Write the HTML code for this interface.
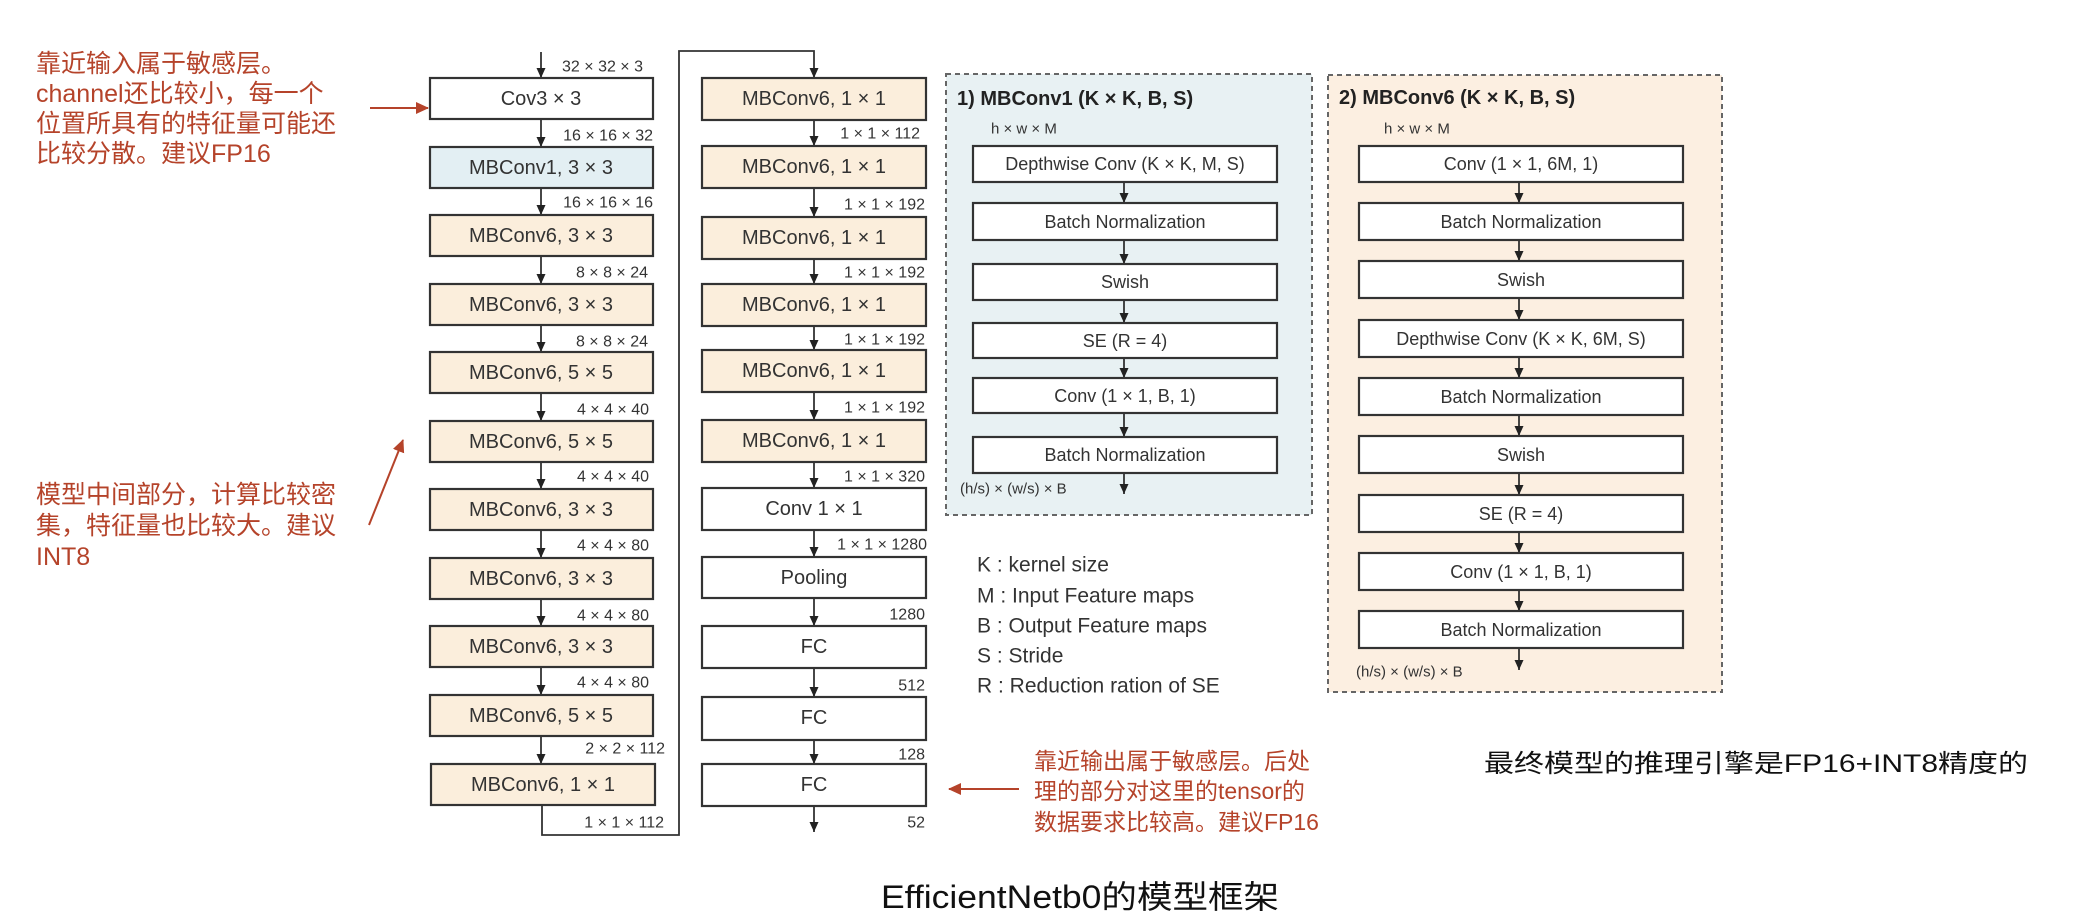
<!DOCTYPE html>
<html><head><meta charset="utf-8"><style>
html,body{margin:0;padding:0;background:#fff;}
svg{display:block;}
.b{font-family:"Liberation Sans Narrow","Liberation Sans",sans-serif;font-size:20px;fill:#333;text-anchor:middle;dominant-baseline:central;}
.d{font-family:"Liberation Sans Narrow","Liberation Sans",sans-serif;font-size:16px;fill:#333;text-anchor:end;dominant-baseline:central;}
.p{font-family:"Liberation Sans",sans-serif;font-size:18px;fill:#333;text-anchor:middle;dominant-baseline:central;}
.l{font-family:"Liberation Sans",sans-serif;font-size:21px;fill:#333;dominant-baseline:central;}
.r{font-family:"Liberation Sans","Noto Sans CJK SC",sans-serif;font-size:25px;fill:#b5432a;dominant-baseline:central;}
.k{font-family:"Liberation Sans","Noto Sans CJK SC",sans-serif;fill:#111;dominant-baseline:central;}
</style></head><body>
<svg width="2079" height="921" viewBox="0 0 2079 921" xmlns="http://www.w3.org/2000/svg">
<defs>
<marker id="a" markerWidth="12" markerHeight="10" refX="10" refY="5" orient="auto" markerUnits="userSpaceOnUse"><path d="M0,0.5 L10,5 L0,9.5 Z" fill="#222"/></marker>
<marker id="ar" markerWidth="14" markerHeight="14" refX="12" refY="6" orient="auto" markerUnits="userSpaceOnUse"><path d="M0,0 L13,6 L0,12 Z" fill="#b5432a"/></marker>
</defs>
<g stroke="#333" stroke-width="1.8" fill="none">
<line x1="541" y1="52" x2="541" y2="78" marker-end="url(#a)"/>
<line x1="541" y1="119" x2="541" y2="147" marker-end="url(#a)"/>
<line x1="541" y1="188" x2="541" y2="215" marker-end="url(#a)"/>
<line x1="541" y1="256" x2="541" y2="284" marker-end="url(#a)"/>
<line x1="541" y1="325" x2="541" y2="352" marker-end="url(#a)"/>
<line x1="541" y1="393" x2="541" y2="421" marker-end="url(#a)"/>
<line x1="541" y1="462" x2="541" y2="489" marker-end="url(#a)"/>
<line x1="541" y1="530" x2="541" y2="558" marker-end="url(#a)"/>
<line x1="541" y1="599" x2="541" y2="626" marker-end="url(#a)"/>
<line x1="541" y1="667" x2="541" y2="695" marker-end="url(#a)"/>
<line x1="541" y1="736" x2="541" y2="764" marker-end="url(#a)"/>
<polyline points="542,805 542,835 679,835 679,51 814,51 814,78" marker-end="url(#a)"/>
<line x1="814" y1="120" x2="814" y2="146" marker-end="url(#a)"/>
<line x1="814" y1="188" x2="814" y2="217" marker-end="url(#a)"/>
<line x1="814" y1="259" x2="814" y2="284" marker-end="url(#a)"/>
<line x1="814" y1="326" x2="814" y2="350" marker-end="url(#a)"/>
<line x1="814" y1="392" x2="814" y2="420" marker-end="url(#a)"/>
<line x1="814" y1="462" x2="814" y2="488" marker-end="url(#a)"/>
<line x1="814" y1="530" x2="814" y2="557" marker-end="url(#a)"/>
<line x1="814" y1="598" x2="814" y2="626" marker-end="url(#a)"/>
<line x1="814" y1="668" x2="814" y2="697" marker-end="url(#a)"/>
<line x1="814" y1="740" x2="814" y2="764" marker-end="url(#a)"/>
<line x1="814" y1="806" x2="814" y2="832" marker-end="url(#a)"/>
</g>
<rect x="946" y="74" width="366" height="441" fill="#e8f1f3" stroke="#666" stroke-width="2" stroke-dasharray="5,4"/>
<rect x="1328" y="75" width="394" height="617" fill="#fcefe1" stroke="#666" stroke-width="2" stroke-dasharray="5,4"/>
<g stroke="#333" stroke-width="1.8" fill="none">
<line x1="1124" y1="182" x2="1124" y2="203" marker-end="url(#a)"/>
<line x1="1124" y1="240" x2="1124" y2="264" marker-end="url(#a)"/>
<line x1="1124" y1="300" x2="1124" y2="323" marker-end="url(#a)"/>
<line x1="1124" y1="358" x2="1124" y2="378" marker-end="url(#a)"/>
<line x1="1124" y1="413" x2="1124" y2="437" marker-end="url(#a)"/>
<line x1="1124" y1="473" x2="1124" y2="494" marker-end="url(#a)"/>
<line x1="1519" y1="182" x2="1519" y2="203" marker-end="url(#a)"/>
<line x1="1519" y1="240" x2="1519" y2="261" marker-end="url(#a)"/>
<line x1="1519" y1="298" x2="1519" y2="320" marker-end="url(#a)"/>
<line x1="1519" y1="357" x2="1519" y2="378" marker-end="url(#a)"/>
<line x1="1519" y1="415" x2="1519" y2="436" marker-end="url(#a)"/>
<line x1="1519" y1="473" x2="1519" y2="495" marker-end="url(#a)"/>
<line x1="1519" y1="532" x2="1519" y2="553" marker-end="url(#a)"/>
<line x1="1519" y1="590" x2="1519" y2="611" marker-end="url(#a)"/>
<line x1="1519" y1="648" x2="1519" y2="670" marker-end="url(#a)"/>
</g>
<g stroke="#333" stroke-width="2.2">
<rect x="430" y="78" width="223" height="41" fill="#fff"/>
<rect x="430" y="147" width="223" height="41" fill="#e3eff3"/>
<rect x="430" y="215" width="223" height="41" fill="#fbeedc"/>
<rect x="430" y="284" width="223" height="41" fill="#fbeedc"/>
<rect x="430" y="352" width="223" height="41" fill="#fbeedc"/>
<rect x="430" y="421" width="223" height="41" fill="#fbeedc"/>
<rect x="430" y="489" width="223" height="41" fill="#fbeedc"/>
<rect x="430" y="558" width="223" height="41" fill="#fbeedc"/>
<rect x="430" y="626" width="223" height="41" fill="#fbeedc"/>
<rect x="430" y="695" width="223" height="41" fill="#fbeedc"/>
<rect x="431" y="764" width="224" height="41" fill="#fbeedc"/>
<rect x="702" y="78" width="224" height="42" fill="#fbeedc"/>
<rect x="702" y="146" width="224" height="42" fill="#fbeedc"/>
<rect x="702" y="217" width="224" height="42" fill="#fbeedc"/>
<rect x="702" y="284" width="224" height="42" fill="#fbeedc"/>
<rect x="702" y="350" width="224" height="42" fill="#fbeedc"/>
<rect x="702" y="420" width="224" height="42" fill="#fbeedc"/>
<rect x="702" y="488" width="224" height="42" fill="#fff"/>
<rect x="702" y="557" width="224" height="41" fill="#fff"/>
<rect x="702" y="626" width="224" height="42" fill="#fff"/>
<rect x="702" y="697" width="224" height="43" fill="#fff"/>
<rect x="702" y="764" width="224" height="42" fill="#fff"/>
<rect x="973" y="146" width="304" height="36" fill="#fff"/>
<rect x="973" y="203" width="304" height="37" fill="#fff"/>
<rect x="973" y="264" width="304" height="36" fill="#fff"/>
<rect x="973" y="323" width="304" height="35" fill="#fff"/>
<rect x="973" y="378" width="304" height="35" fill="#fff"/>
<rect x="973" y="437" width="304" height="36" fill="#fff"/>
<rect x="1359" y="146" width="324" height="36" fill="#fff"/>
<rect x="1359" y="203" width="324" height="37" fill="#fff"/>
<rect x="1359" y="261" width="324" height="37" fill="#fff"/>
<rect x="1359" y="320" width="324" height="37" fill="#fff"/>
<rect x="1359" y="378" width="324" height="37" fill="#fff"/>
<rect x="1359" y="436" width="324" height="37" fill="#fff"/>
<rect x="1359" y="495" width="324" height="37" fill="#fff"/>
<rect x="1359" y="553" width="324" height="37" fill="#fff"/>
<rect x="1359" y="611" width="324" height="37" fill="#fff"/>
</g>
<text class="b" x="541" y="99">Cov3 × 3</text>
<text class="b" x="541" y="168">MBConv1, 3 × 3</text>
<text class="b" x="541" y="236">MBConv6, 3 × 3</text>
<text class="b" x="541" y="305">MBConv6, 3 × 3</text>
<text class="b" x="541" y="373">MBConv6, 5 × 5</text>
<text class="b" x="541" y="442">MBConv6, 5 × 5</text>
<text class="b" x="541" y="510">MBConv6, 3 × 3</text>
<text class="b" x="541" y="579">MBConv6, 3 × 3</text>
<text class="b" x="541" y="647">MBConv6, 3 × 3</text>
<text class="b" x="541" y="716">MBConv6, 5 × 5</text>
<text class="b" x="543" y="785">MBConv6, 1 × 1</text>
<text class="d" x="643" y="67">32 × 32 × 3</text>
<text class="d" x="653" y="136">16 × 16 × 32</text>
<text class="d" x="653" y="203">16 × 16 × 16</text>
<text class="d" x="648" y="273">8 × 8 × 24</text>
<text class="d" x="648" y="342">8 × 8 × 24</text>
<text class="d" x="649" y="410">4 × 4 × 40</text>
<text class="d" x="649" y="477">4 × 4 × 40</text>
<text class="d" x="649" y="546">4 × 4 × 80</text>
<text class="d" x="649" y="616">4 × 4 × 80</text>
<text class="d" x="649" y="683">4 × 4 × 80</text>
<text class="d" x="665" y="749">2 × 2 × 112</text>
<text class="d" x="664" y="823">1 × 1 × 112</text>
<text class="b" x="814" y="99">MBConv6, 1 × 1</text>
<text class="b" x="814" y="167">MBConv6, 1 × 1</text>
<text class="b" x="814" y="238">MBConv6, 1 × 1</text>
<text class="b" x="814" y="305">MBConv6, 1 × 1</text>
<text class="b" x="814" y="371">MBConv6, 1 × 1</text>
<text class="b" x="814" y="441">MBConv6, 1 × 1</text>
<text class="b" x="814" y="509">Conv 1 × 1</text>
<text class="b" x="814" y="578">Pooling</text>
<text class="b" x="814" y="647">FC</text>
<text class="b" x="814" y="718">FC</text>
<text class="b" x="814" y="785">FC</text>
<text class="d" x="920" y="134">1 × 1 × 112</text>
<text class="d" x="925" y="205">1 × 1 × 192</text>
<text class="d" x="925" y="273">1 × 1 × 192</text>
<text class="d" x="925" y="340">1 × 1 × 192</text>
<text class="d" x="925" y="408">1 × 1 × 192</text>
<text class="d" x="925" y="477">1 × 1 × 320</text>
<text class="d" x="927" y="545">1 × 1 × 1280</text>
<text class="d" x="925" y="615">1280</text>
<text class="d" x="925" y="686">512</text>
<text class="d" x="925" y="755">128</text>
<text class="d" x="925" y="823">52</text>
<text x="957" y="99" style="font-family:'Liberation Sans',sans-serif;font-weight:bold;font-size:20px;fill:#222;dominant-baseline:central">1) MBConv1 (K × K, B, S)</text>
<text x="991" y="129" style="font-family:'Liberation Sans',sans-serif;font-size:15px;fill:#333;dominant-baseline:central">h × w × M</text>
<text class="p" x="1125" y="164">Depthwise Conv (K × K, M, S)</text>
<text class="p" x="1125" y="222">Batch Normalization</text>
<text class="p" x="1125" y="282">Swish</text>
<text class="p" x="1125" y="341">SE (R = 4)</text>
<text class="p" x="1125" y="396">Conv (1 × 1, B, 1)</text>
<text class="p" x="1125" y="455">Batch Normalization</text>
<text x="960" y="489" style="font-family:'Liberation Sans',sans-serif;font-size:15px;fill:#333;dominant-baseline:central">(h/s) × (w/s) × B</text>
<text x="1339" y="98" style="font-family:'Liberation Sans',sans-serif;font-weight:bold;font-size:20px;fill:#222;dominant-baseline:central">2) MBConv6 (K × K, B, S)</text>
<text x="1384" y="129" style="font-family:'Liberation Sans',sans-serif;font-size:15px;fill:#333;dominant-baseline:central">h × w × M</text>
<text class="p" x="1521" y="164">Conv (1 × 1, 6M, 1)</text>
<text class="p" x="1521" y="222">Batch Normalization</text>
<text class="p" x="1521" y="280">Swish</text>
<text class="p" x="1521" y="339">Depthwise Conv (K × K, 6M, S)</text>
<text class="p" x="1521" y="397">Batch Normalization</text>
<text class="p" x="1521" y="455">Swish</text>
<text class="p" x="1521" y="514">SE (R = 4)</text>
<text class="p" x="1521" y="572">Conv (1 × 1, B, 1)</text>
<text class="p" x="1521" y="630">Batch Normalization</text>
<text x="1356" y="672" style="font-family:'Liberation Sans',sans-serif;font-size:15px;fill:#333;dominant-baseline:central">(h/s) × (w/s) × B</text>
<text class="l" x="977" y="565">K : kernel size</text>
<text class="l" x="977" y="596">M : Input Feature maps</text>
<text class="l" x="977" y="626">B : Output Feature maps</text>
<text class="l" x="977" y="656">S : Stride</text>
<text class="l" x="977" y="686">R : Reduction ration of SE</text>
<text class="r" x="36" y="64">靠近输入属于敏感层。</text>
<text class="r" x="36" y="94">channel还比较小，每一个</text>
<text class="r" x="36" y="124">位置所具有的特征量可能还</text>
<text class="r" x="36" y="154">比较分散。建议FP16</text>
<line x1="370" y1="108" x2="428" y2="108" stroke="#b5432a" stroke-width="2" marker-end="url(#ar)"/>
<text class="r" x="36" y="495">模型中间部分，计算比较密</text>
<text class="r" x="36" y="526">集，特征量也比较大。建议</text>
<text class="r" x="36" y="557">INT8</text>
<line x1="369" y1="525" x2="403" y2="440" stroke="#b5432a" stroke-width="2" marker-end="url(#ar)"/>
<text class="r" x="1034" y="761" style="font-size:23px">靠近输出属于敏感层。后处</text>
<text class="r" x="1034" y="791" style="font-size:23px">理的部分对这里的tensor的</text>
<text class="r" x="1034" y="822" style="font-size:23px">数据要求比较高。建议FP16</text>
<line x1="1019" y1="789" x2="949" y2="789" stroke="#b5432a" stroke-width="2" marker-end="url(#ar)"/>
<text class="k" x="1484" y="764" style="font-size:25px" textLength="544" lengthAdjust="spacingAndGlyphs">最终模型的推理引擎是FP16+INT8精度的</text>
<text class="k" x="881" y="897" style="font-size:32px" textLength="398" lengthAdjust="spacingAndGlyphs">EfficientNetb0的模型框架</text>
</svg>
</body></html>
